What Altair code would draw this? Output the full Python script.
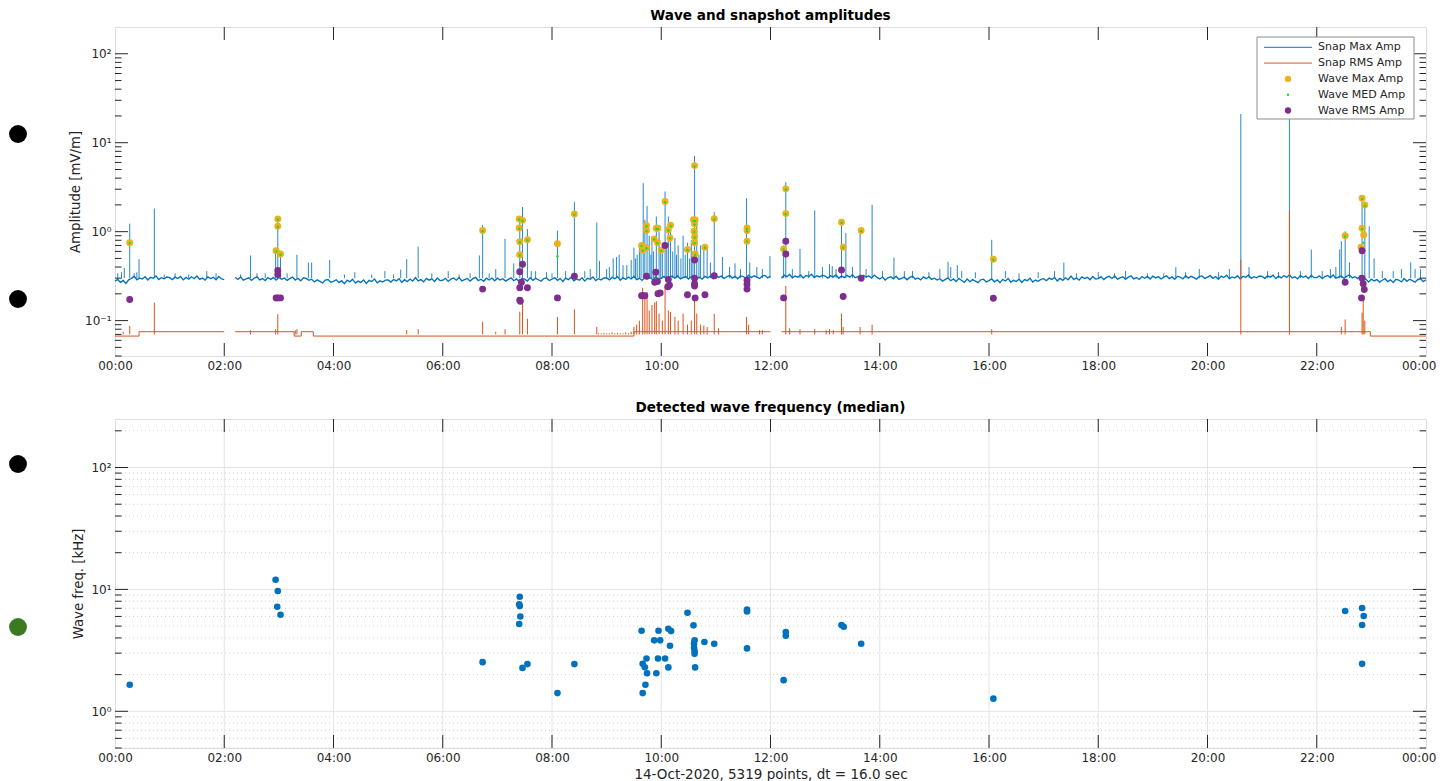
import altair as alt
import pandas as pd

FONT = "DejaVu Sans"
AX = "#262626"
W, H = 1311, 329

C_BLUE = "#0072BD"
C_ORANGE = "#D95319"
C_YELLOW = "#EDB120"
C_GREEN = "#22DD22"
C_PURPLE = "#7E2F8E"

# ---------------- data ----------------
HOUR_TICKS = [0, 2, 4, 6, 8, 10, 12, 14, 16, 18, 20, 22, 24]

# Snap Max Amp background in uV/m, one value every 0.05 h (None = data gap)
SNAP_MAX_BG_UV = [
    278, 290, 269, 283, 262, 287, 297, 316, 288, 302, 293, 311, 286, 307, 299, 318, 290, 304, 295, 309,
    304, 289, 308, 298, 314, 287, 306, 292, 311, 296, 317, 291, 301, 285, 310, 297, 307, 288, 313, 294,
    289, None, None, None, 307, 290, 310, 285, 294, 303, 283, 301, 311, 287, 297, 282, 305, 291, 306, 286,
    305, 291, 301, 283, 296, 308, 286, 299, 280, 303, 298, 284, 292, 272, 287, 276, 265, 285, 290, 270,
    276, 288, 267, 281, 260, 285, 273, 292, 264, 278, 269, 287, 262, 283, 275, 294, 266, 280, 271, 285,
    286, 271, 290, 280, 296, 269, 288, 274, 293, 278, 305, 279, 289, 273, 298, 285, 295, 276, 301, 282,
    284, 299, 276, 293, 302, 285, 305, 280, 289, 298, 278, 296, 306, 282, 292, 277, 300, 286, 301, 281,
    300, 286, 296, 278, 291, 303, 281, 294, 275, 298, 293, 279, 304, 284, 299, 288, 277, 297, 302, 282,
    292, 304, 283, 297, 276, 301, 289, 308, 280, 294, 285, 303, 278, 299, 291, 310, 282, 296, 287, 301,
    302, 287, 306, 296, 312, 285, 304, 290, 309, 294, 315, 289, 299, 283, 308, 295, 305, 286, 311, 292,
    299, 314, 291, 308, 317, 300, 320, 295, 304, 313, 293, 311, 321, 297, 307, 292, 315, 301, 316, 296,
    320, 306, 316, 298, 311, 323, 301, 314, 295, 318, 313, 299, 324, 304, 319, 308, 297, 317, 322, 302,
    315, None, None, None, 299, 324, 312, 331, 303, 317, 308, 326, 301, 322, 314, 333, 305, 319, 310, 324,
    316, 301, 320, 310, 326, 299, 318, 304, 323, 308, 329, 303, 313, 297, 322, 309, 319, 300, 325, 306,
    294, 309, 286, 303, 312, 295, 315, 290, 299, 308, 288, 306, 316, 292, 302, 287, 310, 296, 311, 291,
    300, 286, 296, 278, 291, 303, 281, 294, 275, 298, 283, 269, 294, 274, 289, 278, 267, 287, 292, 272,
    282, 294, 273, 287, 266, 291, 279, 298, 270, 284, 275, 293, 268, 289, 281, 300, 272, 286, 277, 291,
    296, 281, 300, 290, 306, 279, 298, 284, 303, 288, 317, 291, 301, 285, 310, 297, 307, 288, 313, 294,
    297, 312, 289, 306, 315, 298, 318, 293, 302, 311, 291, 309, 319, 295, 305, 290, 313, 299, 314, 294,
    316, 302, 312, 294, 307, 319, 297, 310, 291, 314, 309, 295, 320, 300, 315, 304, 293, 313, 318, 298,
    308, 320, 299, 313, 292, 317, 305, 324, 296, 310, 301, 319, 294, 315, 307, 326, 298, 312, 303, 317,
    314, 299, 318, 308, 324, 297, 316, 302, 321, 306, 327, 301, 311, 295, 320, 307, 317, 298, 323, 304,
    304, 319, 296, 313, 322, 305, 325, 300, 309, 318, 298, 316, 326, 302, 312, 297, 320, 306, 291, 271,
    293, 279, 289, 271, 284, 296, 274, 287, 268, 291, 286, 272, 297, 277, 292, 281, 270, 290, 295, 275,
    288,
]

# Snap Max Amp spikes (hour, peak mV/m)
BLUE_SPIKE_T = [0.05, 0.12, 0.17, 0.27, 0.35, 0.40, 0.44, 0.72, 0.90, 1.10,
                1.35, 1.68, 1.85, 2.30, 2.48, 2.60, 2.75, 2.94, 2.98, 3.03,
                3.15, 3.33, 3.54, 3.60, 3.93, 4.20, 4.39, 4.70, 4.94, 5.10,
                5.23, 5.34, 5.55, 5.80, 6.10, 6.30, 6.50, 6.67, 6.73, 6.85,
                6.97, 7.14, 7.30, 7.41, 7.46, 7.55, 7.62, 7.70, 7.90, 8.00,
                8.10, 8.25, 8.41, 8.60, 8.70, 8.82, 8.87, 9.00, 9.05, 9.12,
                9.18, 9.23, 9.30, 9.37, 9.45, 9.50, 9.53, 9.56, 9.60, 9.63,
                9.67, 9.70, 9.74, 9.78, 9.81, 9.83, 9.86, 9.91, 9.96, 9.99,
                10.02, 10.07, 10.10, 10.13, 10.17, 10.21, 10.25, 10.28, 10.31, 10.36,
                10.40, 10.44, 10.48, 10.52, 10.55, 10.58, 10.61, 10.65, 10.69, 10.72,
                10.78, 10.84, 10.90, 10.97, 11.12, 11.25, 11.35, 11.45, 11.56, 11.62,
                11.75, 11.85, 11.99, 12.24, 12.28, 12.40, 12.54, 12.70, 12.81, 12.95,
                13.08, 13.13, 13.20, 13.30, 13.38, 13.50, 13.64, 13.75, 13.86, 14.05,
                14.26, 14.45, 14.60, 14.90, 15.10, 15.25, 15.30, 15.42, 15.50, 15.75,
                16.05, 16.30, 16.55, 16.90, 17.20, 17.37, 17.60, 18.00, 18.30, 18.50,
                18.90, 19.20, 19.42, 19.60, 19.85, 20.20, 20.40, 20.61, 20.76, 21.10,
                21.30, 21.50, 21.70, 21.90, 22.10, 22.25, 22.35, 22.42, 22.45, 22.52,
                22.60, 22.83, 22.88, 22.96, 23.05, 23.20, 23.40, 23.55, 23.72, 23.80,
                23.90]
BLUE_SPIKE_V = [0.34, 0.35, 0.39, 1.23, 0.34, 0.35, 0.49, 1.82, 0.33, 0.34,
                0.33, 0.36, 0.34, 0.33, 0.54, 0.34, 0.34, 0.62, 1.49, 0.56,
                0.34, 0.55, 0.45, 0.45, 0.48, 0.33, 0.35, 0.33, 0.36, 0.33,
                0.375, 0.49, 0.68, 0.34, 0.36, 0.33, 0.34, 0.54, 1.19, 0.34,
                0.38, 0.83, 0.44, 1.45, 1.89, 1.07, 0.36, 0.36, 0.35, 0.34,
                1.03, 0.36, 2.17, 0.36, 0.38, 1.27, 0.47, 0.38, 0.40, 0.50,
                0.52, 0.55, 0.42, 0.42, 0.48, 0.66, 0.50, 0.55, 0.72, 0.60,
                3.51, 1.36, 1.95, 0.90, 0.55, 0.80, 0.60, 1.48, 1.00, 0.60,
                0.75, 2.83, 0.65, 1.48, 1.15, 0.60, 0.85, 0.55, 0.70, 0.50,
                0.90, 0.55, 0.75, 0.50, 0.80, 0.60, 7.10, 1.20, 0.55, 0.70,
                0.68, 0.65, 0.45, 1.66, 0.52, 0.40, 0.44, 0.38, 2.38, 0.45,
                0.40, 0.38, 0.53, 0.70, 3.60, 0.38, 0.64, 0.36, 1.73, 0.40,
                0.43, 0.41, 0.38, 1.36, 0.97, 0.40, 1.07, 0.38, 2.00, 0.36,
                0.51, 0.36, 0.36, 0.35, 0.38, 0.46, 0.40, 0.42, 0.36, 0.35,
                0.81, 0.36, 0.34, 0.35, 0.36, 0.45, 0.34, 0.35, 0.34, 0.36,
                0.34, 0.34, 0.40, 0.35, 0.38, 0.35, 0.38, 21.0, 0.40, 0.36,
                0.35, 25.0, 0.36, 0.63, 0.36, 0.38, 0.40, 0.63, 0.78, 1.01,
                0.45, 2.50, 2.10, 1.15, 0.50, 0.36, 0.36, 0.38, 0.45, 0.38,
                0.38]

# Snap RMS Amp step level (None = data gap)
ORANGE_T = [0.0, 0.44, 0.44, 2.0, None, 2.2, 3.28, 3.28, 3.41, 3.41, 3.63, 3.63,
            9.5, 9.5, 12.0, None, 12.2, 22.98, 22.98, 24.0]
ORANGE_V = [0.067, 0.067, 0.075, 0.075, None, 0.075, 0.075, 0.067, 0.067, 0.075,
            0.075, 0.067, 0.067, 0.075, 0.075, None, 0.075, 0.075, 0.067, 0.067]

ORANGE_SPIKE_T = [0.15, 0.27, 0.72, 2.48, 2.94, 2.98, 3.30, 3.33, 5.34, 5.55,
                  6.73, 6.97, 7.14, 7.41, 7.46, 7.55, 8.10, 8.41, 8.82, 8.85,
                  8.90, 8.95, 9.00, 9.05, 9.10, 9.15, 9.20, 9.25, 9.30, 9.35,
                  9.40, 9.45, 9.50, 9.55, 9.60, 9.66, 9.70, 9.74, 9.78, 9.83,
                  9.88, 9.91, 9.96, 10.02, 10.07, 10.13, 10.17, 10.25, 10.31, 10.40,
                  10.48, 10.55, 10.61, 10.65, 10.72, 10.78, 10.84, 10.97, 11.05, 11.56,
                  11.60, 11.80, 11.85, 12.28, 12.35, 12.54, 12.81, 13.02, 13.08, 13.15,
                  13.30, 13.33, 13.64, 13.86, 16.05, 20.61, 21.50, 22.45, 22.52, 22.83,
                  22.85, 22.88]
ORANGE_SPIKE_V = [0.075, 0.087, 0.159, 0.078, 0.080, 0.118, 0.078, 0.080, 0.078, 0.080,
                  0.097, 0.075, 0.080, 0.126, 0.170, 0.105, 0.110, 0.134, 0.085, 0.072,
                  0.072, 0.073, 0.072, 0.072, 0.074, 0.072, 0.073, 0.072, 0.072, 0.074,
                  0.072, 0.075, 0.085, 0.090, 0.100, 0.234, 0.200, 0.210, 0.130, 0.150,
                  0.160, 0.165, 0.120, 0.100, 0.245, 0.130, 0.125, 0.110, 0.100, 0.120,
                  0.090, 0.100, 0.170, 0.120, 0.090, 0.088, 0.085, 0.119, 0.082, 0.110,
                  0.090, 0.078, 0.078, 0.245, 0.082, 0.080, 0.080, 0.078, 0.080, 0.078,
                  0.120, 0.085, 0.085, 0.090, 0.080, 0.486, 1.760, 0.085, 0.103, 0.123,
                  0.173, 0.100]

# Wave Max Amp
MAX_T = [0.27, 2.98, 2.98, 2.95, 3.03, 6.73, 7.40, 7.46, 7.40, 7.41, 7.55, 7.41,
         8.10, 8.41, 9.64, 9.66, 9.73, 9.73, 9.73, 9.91, 9.94, 9.93, 10.00, 9.87,
         10.07, 10.13, 10.17, 10.16, 10.48, 10.59, 10.62, 10.61, 10.60, 10.61, 10.61,
         10.62, 10.61, 10.80, 10.97, 11.57, 11.57, 11.57, 12.28, 12.28, 12.24, 13.30,
         13.33, 13.66, 16.08, 22.52, 22.83, 22.88, 22.83, 22.86, 22.81]
MAX_V = [0.75, 1.39, 1.15, 0.61, 0.56, 1.03, 1.39, 1.34, 1.10, 0.77, 0.81, 0.55,
         0.73, 1.58, 0.70, 0.62, 1.17, 1.03, 0.66, 1.09, 1.09, 0.75, 0.62, 0.83,
         2.18, 1.05, 1.18, 0.85, 0.63, 1.36, 1.35, 1.23, 1.01, 0.87, 0.75,
         0.56, 5.53, 0.67, 1.40, 1.10, 1.03, 0.78, 3.03, 1.60, 0.64, 1.28,
         0.67, 1.03, 0.49, 0.90, 2.38, 1.99, 1.09, 0.92, 0.67]
# Wave MED Amp
MED_T = MAX_T
MED_V = [0.74, 1.37, 1.13, 0.60, 0.55, 1.01, 1.37, 1.32, 1.08, 0.76, 0.80, 0.54,
         0.53, 1.55, 0.69, 0.61, 1.15, 1.01, 0.65, 1.07, 1.07, 0.74, 0.61, 0.82,
         2.14, 1.03, 1.16, 0.84, 0.62, 1.33, 1.32, 1.20, 0.99, 0.86, 0.74,
         0.55, 5.40, 0.66, 1.37, 1.08, 1.01, 0.77, 2.97, 1.57, 0.63, 1.26,
         0.66, 1.01, 0.48, 0.88, 2.33, 1.95, 1.07, 0.75, 0.66]
# Wave RMS Amp
RMS_T = [0.27, 2.98, 2.98, 2.95, 2.98, 3.03, 6.73, 7.46, 7.41, 7.44, 7.41, 7.55,
         7.41, 7.42, 8.10, 8.41, 9.73, 9.90, 10.07, 9.88, 9.93, 10.13, 10.15, 10.12,
         9.64, 9.66, 9.70, 9.94, 9.98, 10.48, 10.61, 10.61, 10.61, 10.61, 10.62,
         10.80, 10.97, 11.57, 11.57, 11.57, 12.28, 12.28, 12.24, 13.30, 13.33, 13.66,
         16.08, 22.52, 22.83, 22.83, 22.85, 22.87, 22.82]
RMS_V = [0.173, 0.366, 0.330, 0.180, 0.180, 0.180, 0.226, 0.430, 0.354, 0.270, 0.234, 0.234,
         0.170, 0.165, 0.180, 0.315, 0.315, 0.350, 0.700, 0.270, 0.275, 0.290, 0.250, 0.240,
         0.190, 0.190, 0.190, 0.200, 0.205, 0.195, 0.300, 0.260, 0.245, 0.480, 0.180,
         0.195, 0.320, 0.285, 0.257, 0.226, 0.780, 0.560, 0.180, 0.370, 0.187, 0.300,
         0.178, 0.270, 0.610, 0.300, 0.260, 0.224, 0.180]

# Detected wave frequency (median), kHz
FREQ_T = [0.27, 2.94, 2.98, 2.97, 3.03, 6.73, 7.41, 7.40, 7.41, 7.42, 7.40, 7.46,
          7.55, 8.10, 8.41, 9.64, 9.66, 9.70, 9.73, 9.74, 9.71, 9.66, 9.91, 9.94,
          10.07, 9.87, 9.98, 9.95, 10.13, 10.18, 10.16, 10.13, 10.48, 10.59, 10.61,
          10.60, 10.60, 10.61, 10.61, 10.62, 10.79, 10.97, 11.57, 11.57, 11.57, 12.24,
          12.28, 12.28, 13.30, 13.34, 13.66, 16.08, 22.52, 22.83, 22.86, 22.83, 22.83]
FREQ_V = [1.65, 12.0, 9.7, 7.2, 6.2, 2.53, 8.7, 7.55, 7.3, 6.0, 5.2, 2.27,
          2.44, 1.41, 2.44, 4.58, 2.45, 2.30, 2.71, 2.05, 1.65, 1.41, 2.05, 2.71,
          2.71, 3.82, 3.82, 4.58, 4.76, 4.55, 3.45, 2.29, 6.44, 5.07, 3.82,
          3.58, 3.32, 3.12, 2.96, 2.29, 3.70, 3.58, 6.82, 6.60, 3.28, 1.80,
          4.47, 4.17, 5.10, 4.94, 3.58, 1.27, 6.65, 7.04, 6.05, 5.10, 2.45]

LEGEND_LABELS = ["Snap Max Amp", "Snap RMS Amp", "Wave Max Amp", "Wave MED Amp", "Wave RMS Amp"]
LEGEND_COLORS = ["#3f92d2", "#e07a4e", C_YELLOW, C_GREEN, C_PURPLE]
LEGEND_KIND = ["line", "line", "dot", "small", "dot"]

AMP_MAJOR = [0.1, 1, 10, 100]
AMP_MINOR = [m * 10.0 ** e for e in (-2, -1, 0, 1) for m in range(2, 10) if 0.04 <= m * 10.0 ** e < 200]
FREQ_MAJOR = [1, 10, 100]
FREQ_MINOR = [m * 10.0 ** e for e in (-1, 0, 1, 2) for m in range(2, 10) if 0.5 <= m * 10.0 ** e < 250]

# ---------------- frames ----------------
def segmented(ts, vs, factor=1.0):
    rows, seg = [], 0
    for i, (t, v) in enumerate(zip(ts, vs)):
        if v is None:
            seg += 1
            continue
        rows.append({"t": t, "v": v * factor, "seg": seg, "i": i})
    return pd.DataFrame(rows)

blue_df = segmented([i * 0.05 for i in range(len(SNAP_MAX_BG_UV))], SNAP_MAX_BG_UV, 0.001)
orange_df = segmented(ORANGE_T, ORANGE_V)
bspk_df = pd.DataFrame({"t": BLUE_SPIKE_T, "v": BLUE_SPIKE_V})
ospk_df = pd.DataFrame({"t": ORANGE_SPIKE_T, "v": ORANGE_SPIKE_V})
max_df = pd.DataFrame({"t": MAX_T, "v": MAX_V})
med_df = pd.DataFrame({"t": MED_T, "v": MED_V})
rms_df = pd.DataFrame({"t": RMS_T, "v": RMS_V})
freq_df = pd.DataFrame({"t": FREQ_T, "v": FREQ_V})
one = pd.DataFrame({"k": [0]})

# ---------------- scales / axes ----------------
xsc = alt.Scale(domain=[0, 24], nice=False, zero=False)
ysc_top = alt.Scale(type="log", domain=[0.04, 200], nice=False)
ysc_bot = alt.Scale(type="log", domain=[0.5, 250], nice=False)

XLAB = "(datum.value % 24 < 10 ? '0' : '') + (datum.value % 24) + ':00'"
YLAB = ("datum.value >= 99 ? '10\u00b2' : datum.value >= 9 ? '10\u00b9' : "
        "datum.value >= 0.9 ? '10\u2070' : '10\u207b\u00b9'")


def xaxis(title=None):
    kw = dict(values=HOUR_TICKS, labelExpr=XLAB, ticks=False, domain=False, grid=False,
              labelFont=FONT, labelFontSize=12, labelColor=AX, labelPadding=4,
              labelFlush=False,
              labelAlign={"condition": {"test": "datum.value >= 24", "value": "right"},
                          "value": "center"},
              labelOffset={"condition": {"test": "datum.value >= 24", "value": 10},
                           "value": 0})
    if title:
        kw.update(title=title, titleFont=FONT, titleFontSize=13.5, titleFontWeight="normal",
                  titleColor=AX, titlePadding=4)
    else:
        kw.update(title=None)
    return alt.Axis(**kw)


def yaxis(values, title, tx):
    return alt.Axis(values=values, labelExpr=YLAB, ticks=False, domain=False, grid=False,
                    labelFont=FONT, labelFontSize=12, labelColor=AX, labelPadding=4,
                    title=title, titleFont=FONT, titleFontSize=13.3, titleFontWeight="normal",
                    titleColor=AX, titleX=tx, titleY=H / 2, titleBaseline="middle",
                    titleAlign="center", titleAngle=270)


XA_TOP = xaxis()
XA_BOT = xaxis("14-Oct-2020, 5319 points, dt = 16.0 sec")
YA_TOP = yaxis(AMP_MAJOR, "Amplitude [mV/m]", -40)
YA_BOT = yaxis(FREQ_MAJOR, "Wave freq. [kHz]", -37)


def X(xa):
    return alt.X("t:Q", scale=xsc, axis=xa)


def Y(ysc, ya):
    return alt.Y("v:Q", scale=ysc, axis=ya)


def tick_layers(ysc, ya, xa, major, minor):
    layers = []
    ymaj = pd.DataFrame({"v": major})
    ymin = pd.DataFrame({"v": minor})
    xt = pd.DataFrame({"t": HOUR_TICKS[1:-1]})
    for d, ln in ((ymaj, 13), (ymin, 6.5)):
        layers.append(alt.Chart(d).mark_rule(color=AX, strokeWidth=1).encode(
            y=Y(ysc, ya), x=alt.value(0), x2=alt.value(ln)))
        layers.append(alt.Chart(d).mark_rule(color=AX, strokeWidth=1).encode(
            y=Y(ysc, ya), x=alt.value(W - ln), x2=alt.value(W)))
    layers.append(alt.Chart(xt).mark_rule(color=AX, strokeWidth=1).encode(
        x=X(xa), y=alt.value(H - 13), y2=alt.value(H)))
    layers.append(alt.Chart(xt).mark_rule(color=AX, strokeWidth=1).encode(
        x=X(xa), y=alt.value(0), y2=alt.value(13)))
    return layers


def dot(y_px, color):
    return alt.Chart(one).mark_circle(size=320, color=color, opacity=1).encode(
        x=alt.value(-97), y=alt.value(y_px))


# ---------------- top panel ----------------
top_layers = [
    alt.Chart(blue_df).mark_line(color=C_BLUE, strokeWidth=1.35).encode(
        x=X(XA_TOP), y=Y(ysc_top, YA_TOP), detail="seg:N", order="i:Q"),
    alt.Chart(bspk_df).mark_rule(color=C_BLUE, strokeWidth=0.85).encode(
        x=X(XA_TOP), y=Y(ysc_top, YA_TOP), y2=alt.datum(0.3)),
    alt.Chart(orange_df).mark_line(color=C_ORANGE, strokeWidth=1).encode(
        x=X(XA_TOP), y=Y(ysc_top, YA_TOP), detail="seg:N", order="i:Q"),
    alt.Chart(ospk_df).mark_rule(color=C_ORANGE, strokeWidth=1).encode(
        x=X(XA_TOP), y=Y(ysc_top, YA_TOP), y2=alt.datum(0.07)),
    alt.Chart(max_df).mark_circle(color=C_YELLOW, size=48, opacity=1).encode(
        x=X(XA_TOP), y=Y(ysc_top, YA_TOP)),
    alt.Chart(med_df).mark_circle(color=C_GREEN, size=6, opacity=1).encode(
        x=X(XA_TOP), y=Y(ysc_top, YA_TOP)),
    alt.Chart(rms_df).mark_circle(color=C_PURPLE, size=48, opacity=1).encode(
        x=X(XA_TOP), y=Y(ysc_top, YA_TOP)),
]
top_layers += tick_layers(ysc_top, YA_TOP, XA_TOP, AMP_MAJOR, AMP_MINOR)

# legend (drawn inside the axes, top-right)
LX0, LX1, LY0, LY1 = 1142, 1299, 10, 92
top_layers.append(alt.Chart(one).mark_rect(fill="white", stroke="#8c8c8c", strokeWidth=1).encode(
    x=alt.value(LX0), x2=alt.value(LX1), y=alt.value(LY0), y2=alt.value(LY1)))
for k, (lab, col, kind) in enumerate(zip(LEGEND_LABELS, LEGEND_COLORS, LEGEND_KIND)):
    yy = 20.3 + k * 15.8
    if kind == "line":
        top_layers.append(alt.Chart(one).mark_rule(color=col, strokeWidth=1.3).encode(
            x=alt.value(1149), x2=alt.value(1197), y=alt.value(yy)))
    else:
        top_layers.append(alt.Chart(one).mark_circle(
            color=col, size=6 if kind == "small" else 40, opacity=1).encode(
            x=alt.value(1173), y=alt.value(yy)))
    top_layers.append(alt.Chart(one).mark_text(
        text=lab, align="left", baseline="middle", font=FONT, fontSize=11, color=AX).encode(
        x=alt.value(1203), y=alt.value(yy)))

top_layers += [dot(107, "black"), dot(272, "black")]

top = alt.layer(*top_layers).properties(
    width=W, height=H,
    title=alt.TitleParams("Wave and snapshot amplitudes", font=FONT, fontSize=13.6,
                          fontWeight="bold", color="black", anchor="middle", offset=4))

# ---------------- bottom panel ----------------
grid_v = pd.DataFrame({"t": HOUR_TICKS[1:-1]})
grid_h = pd.DataFrame({"v": FREQ_MAJOR})
grid_m = pd.DataFrame({"v": FREQ_MINOR})
bot_layers = [
    alt.Chart(grid_m).mark_rule(color="#cfcfcf", strokeWidth=1, strokeDash=[1, 3]).encode(
        y=Y(ysc_bot, YA_BOT)),
    alt.Chart(grid_h).mark_rule(color="#e4e4e4", strokeWidth=1).encode(y=Y(ysc_bot, YA_BOT)),
    alt.Chart(grid_v).mark_rule(color="#e4e4e4", strokeWidth=1).encode(x=X(XA_BOT)),
    alt.Chart(freq_df).mark_circle(color=C_BLUE, size=44, opacity=1).encode(
        x=X(XA_BOT), y=Y(ysc_bot, YA_BOT)),
]
bot_layers += tick_layers(ysc_bot, YA_BOT, XA_BOT, FREQ_MAJOR, FREQ_MINOR)
bot_layers += [dot(45, "black"), dot(208, "#3b7a23")]

bot = alt.layer(*bot_layers).properties(
    width=W, height=H,
    title=alt.TitleParams("Detected wave frequency (median)", font=FONT, fontSize=13.6,
                          fontWeight="bold", color="black", anchor="middle", offset=4))

chart = alt.vconcat(top, bot, spacing=28).properties(padding=0).configure_view(
    stroke=AX, strokeWidth=1).configure(background="white")

chart.save("out.html", embed_options={"renderer": "svg", "actions": False})
